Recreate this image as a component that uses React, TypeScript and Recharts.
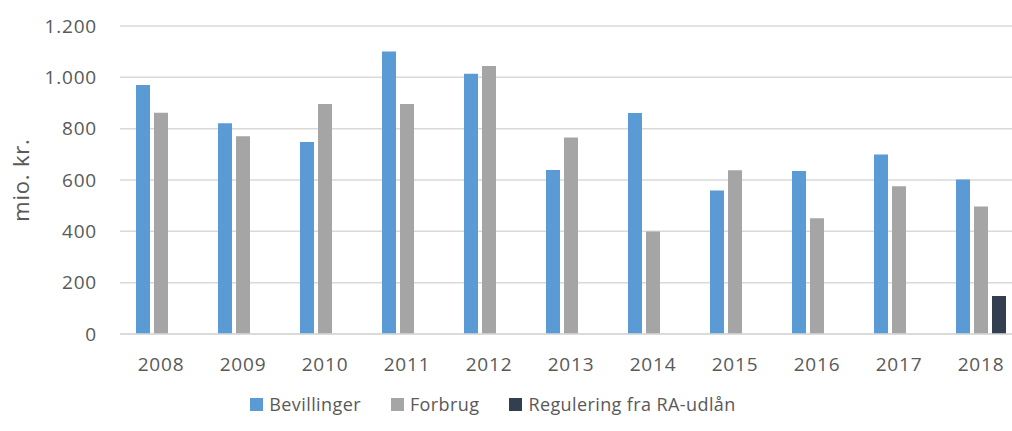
import { BarChart, Bar, XAxis, YAxis, CartesianGrid, Legend } from "recharts"

const years = ["2008", "2009", "2010", "2011", "2012", "2013", "2014", "2015", "2016", "2017", "2018"]
const bevillinger = [970, 821, 748, 1101, 1014, 639, 861, 559, 635, 699, 602]
const forbrug = [862, 770, 896, 896, 1044, 766, 399, 638, 451, 576, 497]
const regulering = [null, null, null, null, null, null, null, null, null, null, 148]
const yTicks = [0, 200, 400, 600, 800, 1000, 1200]

const seriesInfo = [
  { key: "bevillinger", name: "Bevillinger", color: "#5B9BD5" },
  { key: "forbrug", name: "Forbrug", color: "#A5A5A5" },
  { key: "regulering", name: "Regulering fra RA-udlån", color: "#333F50" },
]

const data = years.map((year, i) => ({
  year,
  bevillinger: bevillinger[i],
  forbrug: forbrug[i],
  regulering: regulering[i],
}))

const font = "'Open Sans', sans-serif"
const textColor = "#595959"
const tickStyle = { fill: textColor, fontFamily: font, fontSize: 19, letterSpacing: 0.8 }

// Danish thousands separator
const fmt = (v: number) => v.toLocaleString("da-DK")

function CustomLegend() {
  return (
    <div
      style={{
        display: "flex",
        justifyContent: "center",
        paddingTop: 18,
        paddingRight: 36,
        fontFamily: font,
        fontSize: 18,
        letterSpacing: 0.4,
        color: textColor,
      }}
    >
      {seriesInfo.map((s) => (
        <div key={s.key} style={{ display: "flex", alignItems: "center", margin: "0 15px" }}>
          <span style={{ width: 13, height: 13, background: s.color, marginRight: 6, display: "inline-block" }} />
          <span>{s.name}</span>
        </div>
      ))}
    </div>
  )
}

export default function App() {
  return (
    <div style={{ position: "absolute", left: 0, top: 0, width: 1012, height: 431, overflow: "hidden", background: "#fff" }}>
      <BarChart
        width={1022}
        height={431}
        data={data}
        margin={{ top: 26, right: 0, bottom: 0, left: 0 }}
        barSize={14}
        barGap={4}
      >
        <CartesianGrid vertical={false} stroke="#D9D9D9" strokeWidth={1.5} />
        <XAxis
          dataKey="year"
          height={40}
          tickLine={false}
          axisLine={{ stroke: "#D9D9D9", strokeWidth: 1.5 }}
          tick={tickStyle}
          tickMargin={18}
        />
        <YAxis
          width={120}
          domain={[0, 1200]}
          ticks={yTicks}
          tickFormatter={fmt}
          axisLine={false}
          tickLine={false}
          tickMargin={17}
          tick={tickStyle}
          label={{
            value: "mio. kr.",
            angle: -90,
            position: "insideLeft",
            offset: 21,
            style: { textAnchor: "middle", fill: textColor, fontFamily: font, fontSize: 22, letterSpacing: 0.8 },
          }}
        />
        <Legend verticalAlign="bottom" height={57} content={() => <CustomLegend />} />
        {seriesInfo.map((s) => (
          <Bar key={s.key} dataKey={s.key} name={s.name} fill={s.color} isAnimationActive={false} />
        ))}
      </BarChart>
    </div>
  )
}
